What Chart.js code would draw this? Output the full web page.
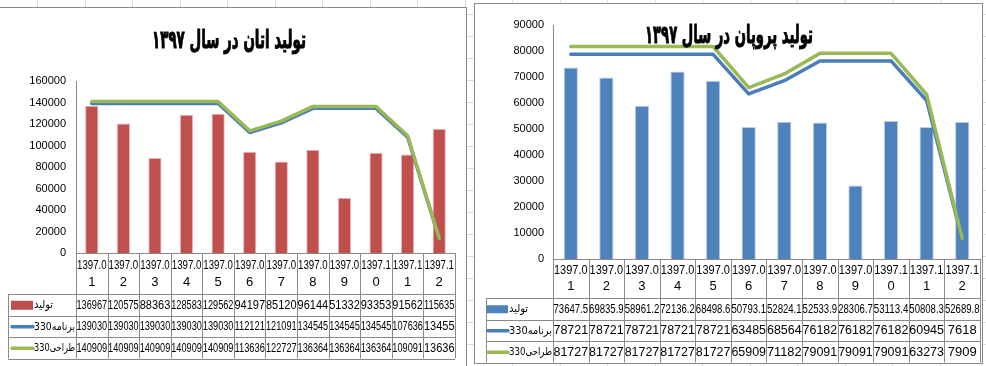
<!DOCTYPE html>
<html>
<head>
<meta charset="utf-8">
<script src="https://cdn.jsdelivr.net/npm/chart.js@4.4.1/dist/chart.umd.min.js"></script>
<style>
  html, body { margin: 0; padding: 0; width: 986px; height: 366px; overflow: hidden; background: #fff; }
  #sheet {
    position: absolute; left: 0; top: 0; width: 986px; height: 366px;
    background-image:
      repeating-linear-gradient(to right, transparent 0px, transparent 37.5px, #dcdcdc 37.5px, #dcdcdc 38.5px, transparent 38.5px, transparent 47.5px),
      repeating-linear-gradient(to bottom, transparent 0px, transparent 14px, #dcdcdc 14px, #dcdcdc 15px, transparent 15px, transparent 22px);
  }
  .box { position: absolute; background: #fff; border: 1px solid #8a8a8a; }
  #boxL { left: -2px; top: 7px; width: 467px; height: 372px; }
  #boxR { left: 474px; top: 3px; width: 507px; height: 359px; }
  canvas { position: absolute; }
  #ethane { left: 0px; top: 8px; }
  #propane { left: 475px; top: 4px; }
</style>
</head>
<body>
<div id="sheet"></div>
<div class="box" id="boxL"></div>
<div class="box" id="boxR"></div>
<canvas id="ethane" width="465" height="358"></canvas>
<canvas id="propane" width="507" height="359"></canvas>
<script>
// ---------- data ----------
const months = ["1397.01","1397.02","1397.03","1397.04","1397.05","1397.06","1397.07","1397.08","1397.09","1397.10","1397.11","1397.12"];
const seriesNames = ["تولید", "برنامه330", "طراحی330"];

const ethaneTitle = "تولید اتان در سال ۱۳۹۷";
const ethaneProduction = [136967, 120575, 88363, 128583, 129562, 94197, 85120, 96144, 51332, 93353, 91562, 115635];
const ethanePlan330    = [139030, 139030, 139030, 139030, 139030, 112121, 121091, 134545, 134545, 134545, 107636, 13455];
const ethaneDesign330  = [140909, 140909, 140909, 140909, 140909, 113636, 122727, 136364, 136364, 136364, 109091, 13636];

const propaneTitle = "تولید پروپان در سال ۱۳۹۷";
const propaneProduction = [73647.5, 69835.9, 58961.2, 72136.2, 68498.6, 50793.1, 52824.1, 52533.9, 28306.7, 53113.4, 50808.3, 52689.8];
const propanePlan330    = [78721, 78721, 78721, 78721, 78721, 63485, 68564, 76182, 76182, 76182, 60945, 7618];
const propaneDesign330  = [81727, 81727, 81727, 81727, 81727, 65909, 71182, 79091, 79091, 79091, 63273, 7909];

// ---------- styles ----------
const narrowFont = "'Liberation Sans Narrow', 'Arial Narrow', 'Liberation Sans', 'DejaVu Sans', sans-serif";
const gridColor = '#8a8a8a';

// data table drawn under the plot, columns taken from the x scale
const dataTablePlugin = {
  id: 'dataTable',
  afterDraw(chart, args, o) {
    const ctx = chart.ctx, a = chart.chartArea, x = chart.scales.x;
    const labels = chart.data.labels, ds = chart.data.datasets, n = labels.length;
    const colW = x.getPixelForValue(1) - x.getPixelForValue(0);
    const edges = labels.map((_, i) => x.getPixelForValue(i) - colW / 2);
    edges.push(x.getPixelForValue(n - 1) + colW / 2);
    const top = a.bottom, catBottom = top + o.catHeight;
    const rowEdges = [catBottom];
    ds.forEach(() => rowEdges.push(rowEdges[rowEdges.length - 1] + o.rowHeight));
    const bottom = rowEdges[rowEdges.length - 1];
    const px = v => Math.round(v) + 0.5;
    ctx.save();
    ctx.strokeStyle = gridColor; ctx.lineWidth = 1;
    ctx.beginPath();
    ctx.moveTo(edges[0], px(top)); ctx.lineTo(edges[n], px(top));
    edges.forEach(e => { ctx.moveTo(px(e), top); ctx.lineTo(px(e), bottom); });
    rowEdges.forEach(r => { ctx.moveTo(o.legendLeft, px(r)); ctx.lineTo(edges[n], px(r)); });
    ctx.moveTo(px(o.legendLeft), catBottom); ctx.lineTo(px(o.legendLeft), bottom);
    ctx.stroke();

    ctx.fillStyle = '#000';
    ctx.font = o.fontSize + 'px ' + narrowFont;
    ctx.textAlign = 'center'; ctx.textBaseline = 'middle';
    labels.forEach((lab, i) => {
      const cx = x.getPixelForValue(i);
      // Excel wraps the last character onto a second line when the label does not fit
      const lines = ctx.measureText(lab).width > colW - 2 ? [lab.slice(0, -1), lab.slice(-1)] : [lab];
      const mid = (top + catBottom) / 2;
      if (lines.length === 1) ctx.fillText(lines[0], cx, mid, colW - 2);
      else {
        ctx.fillText(lines[0], cx, mid - o.lineGap / 2, colW - 2);
        ctx.fillText(lines[1], cx, mid + o.lineGap / 2, colW - 2);
      }
    });
    ds.forEach((d, r) => {
      const yc = (rowEdges[r] + rowEdges[r + 1]) / 2 + 0.5;
      d.data.forEach((v, i) => ctx.fillText(String(v), x.getPixelForValue(i), yc, colW - 1));
      // legend key
      const mx = o.legendLeft + o.markerInset;
      if (d.type === 'bar') {
        ctx.fillStyle = d.backgroundColor;
        ctx.fillRect(mx, yc - o.markerHeight / 2, o.markerWidth, o.markerHeight);
      } else {
        ctx.strokeStyle = d.borderColor; ctx.lineWidth = 3.5; ctx.lineCap = 'round';
        ctx.beginPath(); ctx.moveTo(mx + 1, yc); ctx.lineTo(mx + o.markerWidth, yc); ctx.stroke();
      }
      ctx.fillStyle = '#000';
      ctx.textAlign = 'left';
      const tx = mx + o.markerWidth + 1;
      ctx.font = o.legendFontSize + "px 'DejaVu Sans Condensed', 'DejaVu Sans', sans-serif";
      ctx.fillText(d.label, tx, yc, a.left - tx - 1);
      ctx.font = o.fontSize + 'px ' + narrowFont;
      ctx.textAlign = 'center';
    });
    ctx.restore();
  }
};

const overTitlePlugin = {
  id: 'overTitle',
  afterDraw(chart, args, o) {
    const ctx = chart.ctx;
    ctx.save();
    ctx.font = "bold " + o.size + "px 'DejaVu Sans', sans-serif";
    ctx.fillStyle = '#000'; ctx.strokeStyle = '#000'; ctx.lineWidth = 1;
    ctx.textAlign = 'center'; ctx.textBaseline = 'middle';
    ctx.direction = 'rtl';
    ctx.fillText(o.text, o.x, o.y, o.maxWidth);
    ctx.strokeText(o.text, o.x, o.y, o.maxWidth);
    ctx.restore();
  }
};

function buildChart(id, cfg) {
  return new Chart(document.getElementById(id), {
    type: 'bar',
    data: {
      labels: months,
      datasets: [
        { type: 'bar', label: seriesNames[0], data: cfg.production, backgroundColor: cfg.barColor,
          borderColor: cfg.barEdge, borderWidth: 1, barPercentage: cfg.barPct, categoryPercentage: 1, order: 3 },
        { type: 'line', label: seriesNames[1], data: cfg.plan, borderColor: '#4A7EBB', backgroundColor: '#4A7EBB',
          borderWidth: 3.5, pointRadius: 0, tension: 0, borderJoinStyle: 'round', borderCapStyle: 'round', order: 2 },
        { type: 'line', label: seriesNames[2], data: cfg.design, borderColor: '#98B954', backgroundColor: '#98B954',
          borderWidth: 3.5, pointRadius: 0, tension: 0, borderJoinStyle: 'round', borderCapStyle: 'round', order: 1 }
      ]
    },
    options: {
      responsive: false, animation: false, devicePixelRatio: 1,
      layout: { padding: cfg.padding },
      scales: {
        x: { display: false, offset: true },
        y: {
          min: 0, max: cfg.max,
          ticks: { stepSize: cfg.step, callback: v => String(v), color: '#000', padding: cfg.tickPad,
                   font: { family: "'Liberation Sans Narrow', 'Liberation Sans', sans-serif", size: 11 } },
          grid: { display: false, drawTicks: false },
          border: { display: true, color: gridColor, width: 1 },
          afterFit(s) { s.width = cfg.axisWidth; }
        }
      },
      plugins: {
        legend: { display: false },
        tooltip: { enabled: false },
        dataTable: cfg.table,
        overTitle: cfg.title
      }
    },
    plugins: [dataTablePlugin, overTitlePlugin]
  });
}

buildChart('ethane', {
  production: ethaneProduction, plan: ethanePlan330, design: ethaneDesign330,
  barColor: '#C0504D', barEdge: '#E6B9B8', barPct: 0.42,
  max: 160000, step: 20000, tickPad: 10, axisWidth: 76,
  padding: { left: 0, right: 10, top: 73, bottom: 113 },
  table: { catHeight: 41, rowHeight: 21.5, lineGap: 17, legendLeft: 8, markerInset: 3, markerWidth: 22,
           markerHeight: 9, fontSize: 13, legendFontSize: 11 },
  title: { text: ethaneTitle, x: 229, y: 33, size: 25, maxWidth: 154 }
});

buildChart('propane', {
  production: propaneProduction, plan: propanePlan330, design: propaneDesign330,
  barColor: '#4F81BD', barEdge: '#B9CDE5', barPct: 0.4,
  max: 90000, step: 10000, tickPad: 9, axisWidth: 78,
  padding: { left: 0, right: 2, top: 21, bottom: 104 },
  table: { catHeight: 39, rowHeight: 21.5, lineGap: 16, legendLeft: 11, markerInset: 1, markerWidth: 21,
           markerHeight: 8, fontSize: 13, legendFontSize: 11 },
  title: { text: propaneTitle, x: 254, y: 32, size: 25, maxWidth: 168 }
});
</script>
</body>
</html>
